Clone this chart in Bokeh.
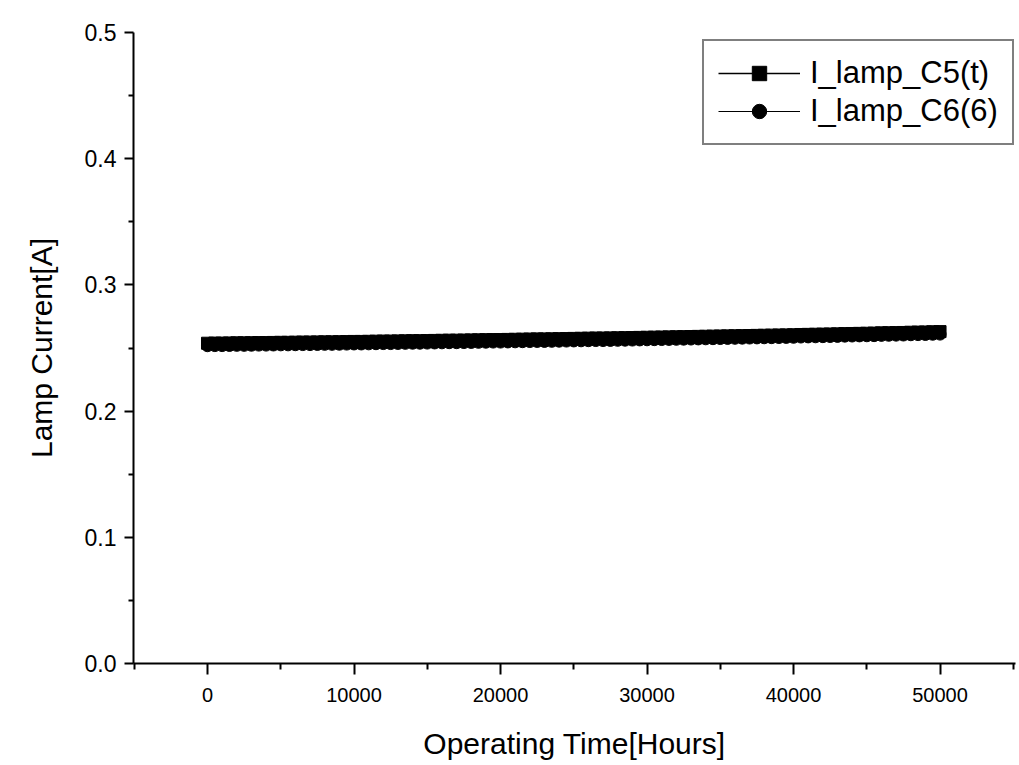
from bokeh.plotting import figure
from bokeh.models import FixedTicker, Legend, LegendItem, Range1d
from bokeh.embed import file_html
from bokeh.resources import INLINE

hours = list(range(0, 50001, 500))

i_lamp_c5 = [
    0.2538, 0.2539, 0.2539, 0.2540, 0.2541, 0.2541, 0.2542, 0.2543, 0.2543, 0.2544, 0.2545,
    0.2545, 0.2546, 0.2547, 0.2547, 0.2548, 0.2549, 0.2549, 0.2550, 0.2551, 0.2552,
    0.2552, 0.2553, 0.2554, 0.2555, 0.2555, 0.2556, 0.2557, 0.2558, 0.2558, 0.2559,
    0.2560, 0.2561, 0.2562, 0.2562, 0.2563, 0.2564, 0.2565, 0.2566, 0.2567, 0.2567,
    0.2568, 0.2569, 0.2570, 0.2571, 0.2572, 0.2572, 0.2573, 0.2574, 0.2575, 0.2576,
    0.2577, 0.2578, 0.2579, 0.2579, 0.2580, 0.2581, 0.2582, 0.2583, 0.2584, 0.2585,
    0.2586, 0.2587, 0.2588, 0.2589, 0.2590, 0.2591, 0.2592, 0.2593, 0.2594, 0.2595,
    0.2596, 0.2597, 0.2598, 0.2599, 0.2600, 0.2601, 0.2602, 0.2603, 0.2604, 0.2605,
    0.2607, 0.2608, 0.2609, 0.2610, 0.2611, 0.2612, 0.2614, 0.2615, 0.2616, 0.2617,
    0.2618, 0.2620, 0.2621, 0.2622, 0.2623, 0.2625, 0.2626, 0.2627, 0.2629, 0.2630,
]

i_lamp_c6 = [
    0.2518, 0.2519, 0.2519, 0.2520, 0.2521, 0.2521, 0.2522, 0.2523, 0.2523, 0.2524, 0.2525,
    0.2525, 0.2526, 0.2527, 0.2527, 0.2528, 0.2529, 0.2529, 0.2530, 0.2531, 0.2532,
    0.2532, 0.2533, 0.2534, 0.2535, 0.2535, 0.2536, 0.2537, 0.2538, 0.2538, 0.2539,
    0.2540, 0.2541, 0.2542, 0.2542, 0.2543, 0.2544, 0.2545, 0.2546, 0.2547, 0.2547,
    0.2548, 0.2549, 0.2550, 0.2551, 0.2552, 0.2552, 0.2553, 0.2554, 0.2555, 0.2556,
    0.2557, 0.2558, 0.2559, 0.2559, 0.2560, 0.2561, 0.2562, 0.2563, 0.2564, 0.2565,
    0.2566, 0.2567, 0.2568, 0.2569, 0.2570, 0.2571, 0.2572, 0.2573, 0.2574, 0.2575,
    0.2576, 0.2577, 0.2578, 0.2579, 0.2580, 0.2581, 0.2582, 0.2583, 0.2584, 0.2585,
    0.2587, 0.2588, 0.2589, 0.2590, 0.2591, 0.2592, 0.2594, 0.2595, 0.2596, 0.2597,
    0.2598, 0.2600, 0.2601, 0.2602, 0.2603, 0.2605, 0.2606, 0.2607, 0.2609, 0.2610,
]

x_ticks = [0, 10000, 20000, 30000, 40000, 50000]
x_tick_labels = ["0", "10000", "20000", "30000", "40000", "50000"]
y_ticks = [0.0, 0.1, 0.2, 0.3, 0.4, 0.5]
y_tick_labels = ["0.0", "0.1", "0.2", "0.3", "0.4", "0.5"]
series_names = ["I_lamp_C5(t)", "I_lamp_C6(6)"]

FONT = "Liberation Sans"

p = figure(width=1019, height=765, output_backend="svg", toolbar_location=None,
           x_range=Range1d(-5050, 55150), y_range=Range1d(0.0, 0.5),
           min_border_left=133, min_border_right=4, min_border_top=32, min_border_bottom=102)
p.outline_line_color = None
p.xgrid.visible = False
p.ygrid.visible = False
p.background_fill_color = "white"
p.border_fill_color = "white"

r1l = p.line(hours, i_lamp_c5, line_color="black", line_width=1.5)
r1m = p.scatter(hours, i_lamp_c5, marker="square", size=12, fill_color="black", line_color="black")
r2l = p.line(hours, i_lamp_c6, line_color="black", line_width=1)
r2m = p.scatter(hours, i_lamp_c6, marker="circle", size=12, fill_color="black", line_color="black")

for ax in (p.xaxis[0], p.yaxis[0]):
    ax.axis_line_color = "black"
    ax.axis_line_width = 2
    ax.major_tick_line_color = "black"
    ax.major_tick_line_width = 2
    ax.minor_tick_line_color = "black"
    ax.minor_tick_line_width = 2
    ax.major_tick_in = 0
    ax.minor_tick_in = 0
    ax.major_label_text_font = FONT
    ax.major_label_text_color = "black"
    ax.axis_label_text_font = FONT
    ax.axis_label_text_font_style = "normal"
    ax.axis_label_text_color = "black"
    ax.axis_label_text_font_size = "30px"

p.xaxis.ticker = FixedTicker(ticks=x_ticks, minor_ticks=[-5000, 5000, 15000, 25000, 35000, 45000, 55000])
p.xaxis.major_label_overrides = {t: s for t, s in zip(x_ticks, x_tick_labels)}
p.xaxis.major_tick_out = 11
p.xaxis.minor_tick_out = 6
p.xaxis.major_label_text_font_size = "20px"
p.xaxis.major_label_standoff = 13
p.xaxis.axis_label = "Operating Time[Hours]"
p.xaxis.axis_label_standoff = 22

p.yaxis.ticker = FixedTicker(ticks=y_ticks, minor_ticks=[0.05, 0.15, 0.25, 0.35, 0.45])
p.yaxis.major_label_overrides = {t: s for t, s in zip(y_ticks, y_tick_labels)}
p.yaxis.major_tick_out = 9
p.yaxis.minor_tick_out = 5
p.yaxis.major_label_text_font_size = "23px"
p.yaxis.major_label_standoff = 8
p.yaxis.axis_label = "Lamp Current[A]"
p.yaxis.axis_label_standoff = 24

legend = Legend(items=[LegendItem(label=series_names[0], renderers=[r1l, r1m]),
                       LegendItem(label=series_names[1], renderers=[r2l, r2m])],
                location=(569, 518))
legend.border_line_color = "black"
legend.border_line_width = 2
legend.background_fill_alpha = 1
legend.label_text_font = FONT
legend.label_text_font_size = "31px"
legend.label_text_color = "black"
legend.glyph_width = 82
legend.glyph_height = 36
legend.label_height = 36
legend.label_standoff = 10
legend.spacing = 2
legend.padding = 14
legend.margin = 0
p.add_layout(legend)

open("out.html", "w").write(file_html(p, INLINE))
